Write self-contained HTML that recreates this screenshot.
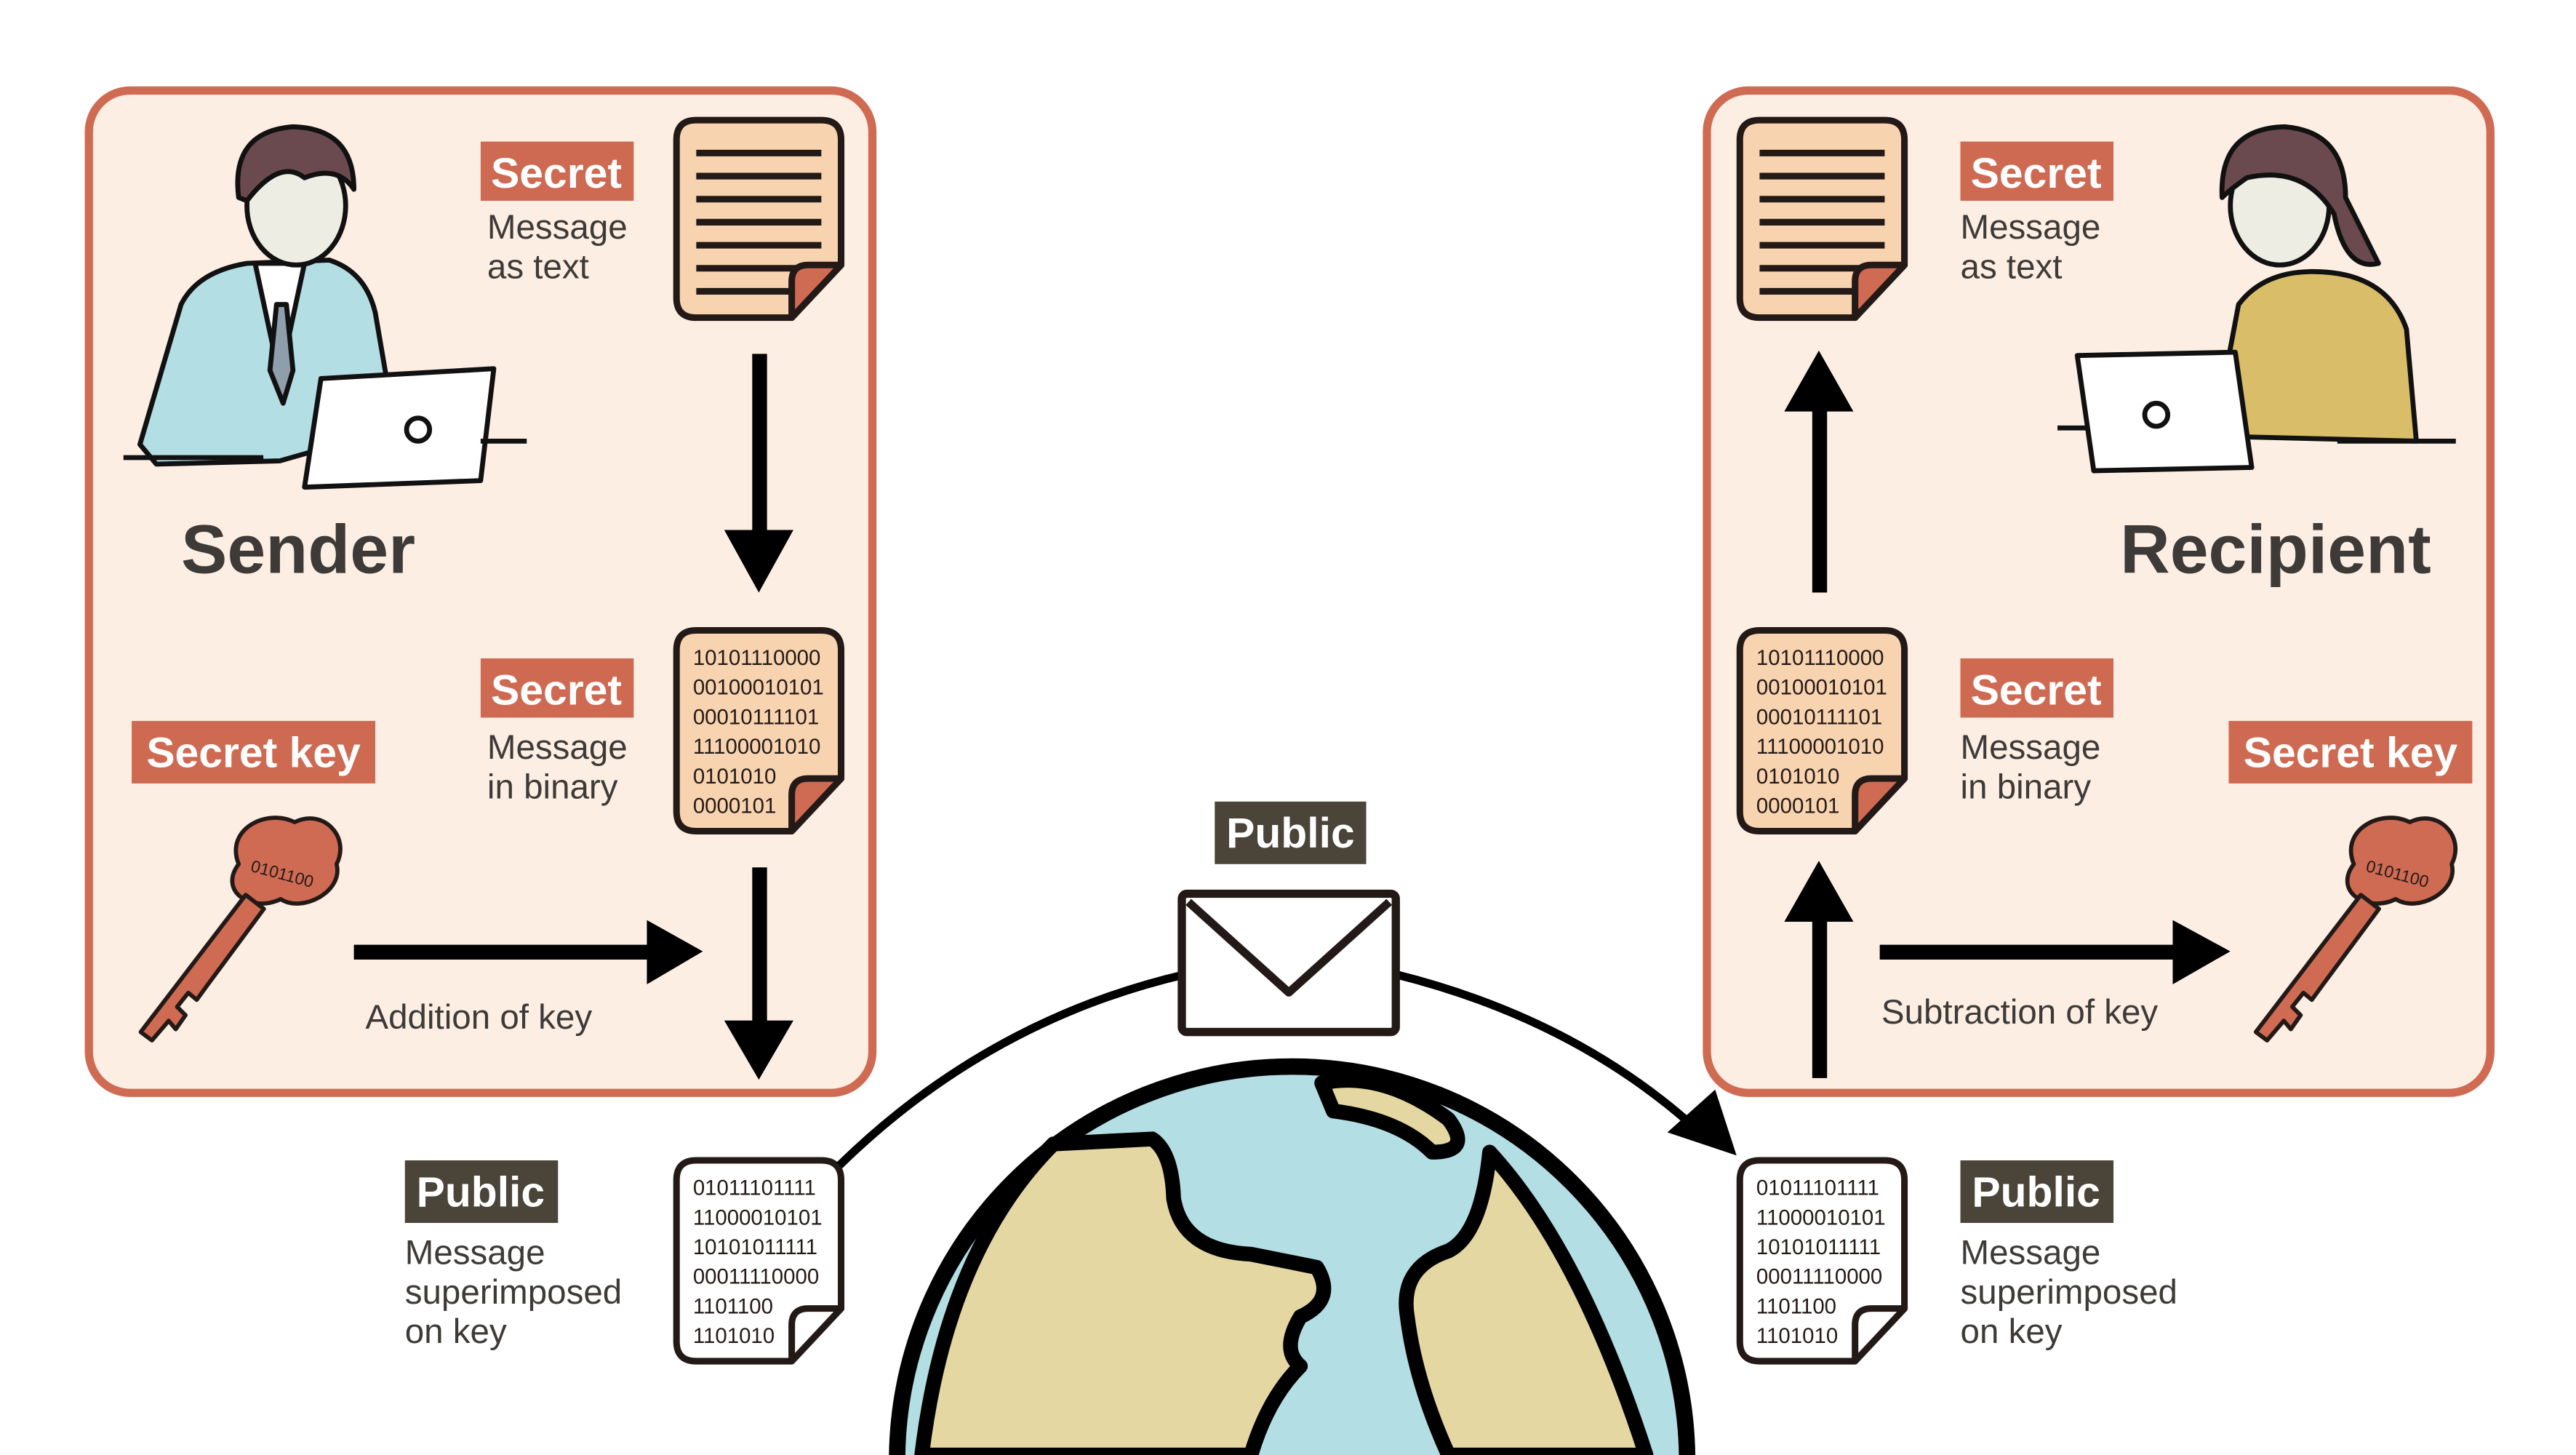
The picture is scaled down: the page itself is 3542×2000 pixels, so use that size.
<!DOCTYPE html>
<html><head><meta charset="utf-8"><style>
html,body{margin:0;padding:0;background:#fff;width:3542px;height:2000px;overflow:hidden}
svg{display:block}
text{font-family:"Liberation Sans",sans-serif}
</style></head><body>
<svg width="3542" height="2000" viewBox="0 0 1565 884" preserveAspectRatio="none" xmlns="http://www.w3.org/2000/svg">
<defs>
<clipPath id="frame"><rect x="0" y="0" width="1565" height="884"/></clipPath>
<g id="key">
 <g fill="#d06b53" stroke="#231a17" stroke-width="3" stroke-linejoin="round">
  <path d="M0,0 C-10,-25 20,-40 40,-30 C60,-40 80,-20 70,0 C75,20 45,35 30,25 C10,35 -15,20 0,0Z"/>
  <path d="M5,22 L-70,120 L-62,126 L-50,112 L-45,118 L-38,108 L-44,102 L-36,92 L-30,97 L-22,86 L18,32Z"/>
 </g>
 <text x="8" y="5" font-size="12" fill="#231a17" transform="rotate(15 8 5)">0101100</text>
</g>
<g id="docT">
 <path d="M12,0 H88 Q100,0 100,12 V88 L70,120 H12 Q0,120 0,108 V12 Q0,0 12,0Z" fill="#f8d3b0" stroke="#231a17" stroke-width="4" stroke-linejoin="round"/>
 <g stroke="#231a17" stroke-width="4">
  <line x1="12" y1="20" x2="88" y2="20"/><line x1="12" y1="34" x2="88" y2="34"/><line x1="12" y1="48" x2="88" y2="48"/><line x1="12" y1="62" x2="88" y2="62"/><line x1="12" y1="76" x2="88" y2="76"/><line x1="12" y1="90" x2="74" y2="90"/><line x1="12" y1="104" x2="70" y2="104"/>
 </g>
 <path d="M70,120 L70,98 Q70,88 80,88 L100,88 Z" fill="#d06b53" stroke="#231a17" stroke-width="4" stroke-linejoin="round"/>
</g>
<g id="docB">
 <path d="M12,0 H88 Q100,0 100,12 V90 L70,122 H12 Q0,122 0,110 V12 Q0,0 12,0Z" fill="#f8d3b0" stroke="#231a17" stroke-width="4" stroke-linejoin="round"/>
 <g font-size="13" fill="#231a17">
  <text x="10" y="21">10101110000</text><text x="10" y="39">00100010101</text><text x="10" y="57">00010111101</text><text x="10" y="75">11100001010</text><text x="10" y="93">0101010</text><text x="10" y="111">0000101</text>
 </g>
 <path d="M70,122 L70,100 Q70,90 80,90 L100,90 Z" fill="#d06b53" stroke="#231a17" stroke-width="4" stroke-linejoin="round"/>
</g>
<g id="docP">
 <path d="M12,0 H88 Q100,0 100,12 V90 L70,122 H12 Q0,122 0,110 V12 Q0,0 12,0Z" fill="#fff" stroke="#231a17" stroke-width="4" stroke-linejoin="round"/>
 <g font-size="13" fill="#231a17">
  <text x="10" y="21">01011101111</text><text x="10" y="39">11000010101</text><text x="10" y="57">10101011111</text><text x="10" y="75">00011110000</text><text x="10" y="93">1101100</text><text x="10" y="111">1101010</text>
 </g>
 <path d="M70,122 L70,100 Q70,90 80,90 L100,90 Z" fill="#fff" stroke="#231a17" stroke-width="4" stroke-linejoin="round"/>
</g>
</defs>

<rect x="54" y="55" width="476" height="609" rx="25" fill="#fdeee4" stroke="#d06b53" stroke-width="5"/>
<rect x="1037" y="55" width="476" height="609" rx="25" fill="#fdeee4" stroke="#d06b53" stroke-width="5"/>

<g stroke="#111" stroke-width="3" stroke-linejoin="round">
 <path d="M85,270 L110,185 Q120,165 150,160 L200,158 Q222,165 228,190 L240,260 L170,280 L95,282Z" fill="#b2dee4"/>
 <path d="M155,160 L170,230 L185,160Z" fill="#fff"/>
 <path d="M168,185 L164,225 L172,245 L178,225 L174,185Z" fill="#8f9eab"/>
 <ellipse cx="180" cy="125" rx="30" ry="36" fill="#eeede4"/>
 <path d="M145,120 Q140,80 178,77 Q215,78 215,115 Q205,100 185,108 Q170,96 150,122Z" fill="#6a4a4e"/>
 <path d="M195,230 L300,224 L292,292 L185,296Z" fill="#fff"/>
 <circle cx="254" cy="261" r="7" fill="none"/>
 <line x1="75" y1="278" x2="160" y2="278"/><line x1="292" y1="268" x2="320" y2="268"/>
</g>
<text x="110" y="348" font-size="42" font-weight="bold" fill="#3d3a37">Sender</text>

<rect x="292" y="86" width="93" height="36" fill="#cf6a52"/>
<text x="338" y="114" font-size="26" font-weight="bold" fill="#fff" text-anchor="middle">Secret</text>
<text x="296" y="145" font-size="21" fill="#3d3a37">Message</text>
<text x="296" y="169" font-size="21" fill="#3d3a37">as text</text>
<use href="#docT" x="411" y="73"/>
<rect x="457" y="215" width="9" height="110" fill="#000"/><path d="M440,322 L482,322 L461,360Z" fill="#000"/>

<rect x="292" y="400" width="93" height="36" fill="#cf6a52"/>
<text x="338" y="428" font-size="26" font-weight="bold" fill="#fff" text-anchor="middle">Secret</text>
<text x="296" y="461" font-size="21" fill="#3d3a37">Message</text>
<text x="296" y="485" font-size="21" fill="#3d3a37">in binary</text>
<use href="#docB" x="411" y="383"/>

<rect x="80" y="438" width="148" height="38" fill="#cf6a52"/>
<text x="154" y="466" font-size="26" font-weight="bold" fill="#fff" text-anchor="middle">Secret key</text>
<use href="#key" transform="translate(145,525) scale(0.85)"/>
<rect x="215" y="574" width="182" height="9" fill="#000"/><path d="M393,559 L427,578 L393,598Z" fill="#000"/>
<text x="222" y="625" font-size="21" fill="#3d3a37">Addition of key</text>
<rect x="457" y="527" width="9" height="96" fill="#000"/><path d="M440,620 L482,620 L461,656Z" fill="#000"/>

<rect x="246" y="705" width="93" height="38" fill="#4a4439"/>
<text x="292" y="733" font-size="26" font-weight="bold" fill="#fff" text-anchor="middle">Public</text>
<text x="246" y="768" font-size="21" fill="#3d3a37">Message</text>
<text x="246" y="792" font-size="21" fill="#3d3a37">superimposed</text>
<text x="246" y="816" font-size="21" fill="#3d3a37">on key</text>
<use href="#docP" x="411" y="705"/>

<path d="M510,708 Q600,620 720,592" fill="none" stroke="#000" stroke-width="5"/>
<path d="M848,592 Q960,620 1035,690" fill="none" stroke="#000" stroke-width="5"/>
<path d="M1055,702 L1013,688 L1042,662Z" fill="#000"/>

<g clip-path="url(#frame)">
<circle cx="785" cy="888" r="240" fill="#b2dee4" stroke="#000" stroke-width="10"/>
<g fill="#e4d7a2" stroke="#000" stroke-width="9" stroke-linejoin="round">
 <path d="M560,884 Q575,760 640,695 L700,692 Q712,700 713,728 Q718,760 760,762 L800,770 Q812,790 790,800 Q778,820 790,830 Q770,850 760,884Z"/>
 <path d="M803,658 Q840,650 880,680 Q895,700 870,700 Q850,680 810,675Z"/>
 <path d="M905,700 Q960,760 1000,884 L880,884 Q860,840 855,800 Q850,770 880,760 Q900,750 905,700Z"/>
</g>
</g>

<rect x="718" y="543" width="130" height="84" rx="3" fill="#fff" stroke="#231a17" stroke-width="5"/>
<path d="M722,548 L783,603 L844,548" fill="none" stroke="#231a17" stroke-width="5" stroke-linejoin="round"/>
<rect x="738" y="487" width="92" height="38" fill="#4a4439"/>
<text x="784" y="515" font-size="26" font-weight="bold" fill="#fff" text-anchor="middle">Public</text>

<use href="#docT" x="1057" y="73"/>
<rect x="1101" y="245" width="9" height="115" fill="#000"/><path d="M1084,250 L1126,250 L1105,213Z" fill="#000"/>
<use href="#docB" x="1057" y="383"/>
<rect x="1101" y="555" width="9" height="100" fill="#000"/><path d="M1084,560 L1126,560 L1105,523Z" fill="#000"/>

<rect x="1191" y="86" width="93" height="36" fill="#cf6a52"/>
<text x="1237" y="114" font-size="26" font-weight="bold" fill="#fff" text-anchor="middle">Secret</text>
<text x="1191" y="145" font-size="21" fill="#3d3a37">Message</text>
<text x="1191" y="169" font-size="21" fill="#3d3a37">as text</text>
<rect x="1191" y="400" width="93" height="36" fill="#cf6a52"/>
<text x="1237" y="428" font-size="26" font-weight="bold" fill="#fff" text-anchor="middle">Secret</text>
<text x="1191" y="461" font-size="21" fill="#3d3a37">Message</text>
<text x="1191" y="485" font-size="21" fill="#3d3a37">in binary</text>

<g stroke="#111" stroke-width="3" stroke-linejoin="round">
 <path d="M1345,265 L1360,185 Q1375,165 1405,165 Q1450,165 1462,200 L1468,268Z" fill="#d9bd68"/>
 <ellipse cx="1385" cy="125" rx="30" ry="36" fill="#eeede4"/>
 <path d="M1350,120 Q1348,78 1388,77 Q1425,80 1425,120 L1445,160 Q1425,165 1418,130 Q1400,100 1365,108 Q1355,115 1350,120Z" fill="#6a4a4e"/>
 <path d="M1262,216 L1358,214 L1368,284 L1272,286Z" fill="#fff"/>
 <circle cx="1310" cy="252" r="7" fill="none"/>
 <line x1="1250" y1="260" x2="1268" y2="260"/><line x1="1420" y1="268" x2="1492" y2="268"/>
</g>
<text x="1288" y="348" font-size="42" font-weight="bold" fill="#3d3a37">Recipient</text>

<rect x="1354" y="438" width="148" height="38" fill="#cf6a52"/>
<text x="1428" y="466" font-size="26" font-weight="bold" fill="#fff" text-anchor="middle">Secret key</text>
<use href="#key" transform="translate(1430,525) scale(0.85)"/>
<rect x="1142" y="574" width="182" height="9" fill="#000"/><path d="M1320,559 L1355,578 L1320,598Z" fill="#000"/>
<text x="1143" y="622" font-size="21" fill="#3d3a37">Subtraction of key</text>

<use href="#docP" x="1057" y="705"/>
<rect x="1191" y="705" width="93" height="38" fill="#4a4439"/>
<text x="1237" y="733" font-size="26" font-weight="bold" fill="#fff" text-anchor="middle">Public</text>
<text x="1191" y="768" font-size="21" fill="#3d3a37">Message</text>
<text x="1191" y="792" font-size="21" fill="#3d3a37">superimposed</text>
<text x="1191" y="816" font-size="21" fill="#3d3a37">on key</text>
</svg>
</body></html>
